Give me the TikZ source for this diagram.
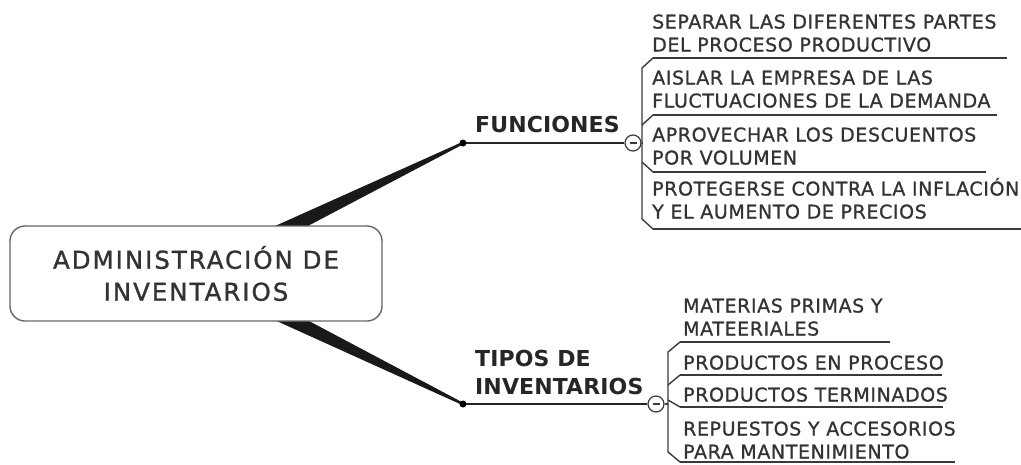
\documentclass[tikz,border=0pt]{standalone}
\usepackage{fontspec}
\setmainfont{DejaVu Sans}[LetterSpace=3.2,FakeBold=0.9]
\newfontfamily\rootfont{DejaVu Sans}[LetterSpace=8,FakeBold=1.2]
\newfontfamily\titlefont{DejaVu Sans Bold}[LetterSpace=0.5]
\usetikzlibrary{calc}
\definecolor{ink}{HTML}{333333}
\definecolor{edge}{HTML}{3A3A3A}

\begin{document}
\begin{tikzpicture}[x=1pt,y=-1pt,
    leaf/.style={anchor=south west,inner sep=0pt,align=left,text=ink,font=\fontsize{19}{23}\selectfont},
    title/.style={anchor=south west,inner sep=0pt,align=left,text=black!85,font=\titlefont\fontsize{22}{28}\selectfont},
    uline/.style={draw=edge,line width=1.8pt},
    brace/.style={draw=edge,line width=1.4pt},
    stem/.style={draw=black!85,line width=1.6pt},
    toggle/.style={circle,draw=edge,line width=1.2pt,fill=white,minimum size=16pt,inner sep=0pt,
        path picture={\draw[line width=1.4pt] ([xshift=-3.5pt]path picture bounding box.center) -- ([xshift=3.5pt]path picture bounding box.center);}},
    rootbox/.style={draw=black!60,line width=1.4pt,rounded corners=15pt,fill=white,minimum width=372pt,
        minimum height=95pt,align=center,text=ink,font=\rootfont\fontsize{24.5}{32}\selectfont}]
    \useasboundingbox (0,0) rectangle (1021,464);

    % centre and the two knots
    \coordinate (c) at (196,273);
    \coordinate (fdot) at (463,143);
    \coordinate (tdot) at (463,404);

    % tapered branches
    \fill[black!90] ($(c)!10.5pt!90:(fdot)$) -- ($(fdot)!1.2pt!-90:(c)$) -- ($(fdot)!1.2pt!90:(c)$) -- ($(c)!10.5pt!-90:(fdot)$) -- cycle;
    \fill[black!90] ($(c)!10.5pt!90:(tdot)$) -- ($(tdot)!1.2pt!-90:(c)$) -- ($(tdot)!1.2pt!90:(c)$) -- ($(c)!10.5pt!-90:(tdot)$) -- cycle;

    \node[rootbox] (root) at (196,273.5) {ADMINISTRACIÓN DE\\INVENTARIOS};

    % FUNCIONES
    \node[title] (fun) at (475,133) {FUNCIONES};
    \node[toggle] (fcirc) at (633,143) {};
    \draw[stem] (fdot) -- (fcirc);
    \fill[black] (fdot) circle (3.5pt);

    \coordinate (f1) at (653,58);  \coordinate (f1e) at (1007,58);
    \coordinate (f2) at (653,115); \coordinate (f2e) at (997,115);
    \coordinate (f3) at (653,172); \coordinate (f3e) at (986,172);
    \coordinate (f4) at (653,229); \coordinate (f4e) at (1021,229);
    \draw[brace] (fcirc.east) -- (642,143);
    \draw[brace] (f1) -- (642,68) -- (642,219) -- (f4);
    \draw[brace] (642,125) -- (f2);
    \draw[brace] (642,162) -- (f3);
    \draw[uline] (f1) -- (f1e);
    \draw[uline] (f2) -- (f2e);
    \draw[uline] (f3) -- (f3e);
    \draw[uline] (f4) -- (f4e);
    \node[leaf] (sep) at ([xshift=-1pt,yshift=6pt]f1) {SEPARAR LAS DIFERENTES PARTES\\DEL PROCESO PRODUCTIVO};
    \node[leaf] (ais) at ([xshift=-1pt,yshift=7pt]f2) {AISLAR LA EMPRESA DE LAS\\FLUCTUACIONES DE LA DEMANDA};
    \node[leaf] (apr) at ([xshift=-1pt,yshift=7pt]f3) {APROVECHAR LOS DESCUENTOS\\POR VOLUMEN};
    \node[leaf] (pro) at ([xshift=-1pt,yshift=10pt]f4) {PROTEGERSE CONTRA LA INFLACIÓN\\Y EL AUMENTO DE PRECIOS};

    % TIPOS DE INVENTARIOS
    \node[title] (tip) at (475,395) {TIPOS DE\\INVENTARIOS};
    \node[toggle] (tcirc) at (656,404) {};
    \draw[stem] (tdot) -- (tcirc);
    \fill[black] (tdot) circle (3.5pt);

    \coordinate (t1) at (680,342); \coordinate (t1e) at (890,342);
    \coordinate (t2) at (680,375); \coordinate (t2e) at (942,375);
    \coordinate (t3) at (680,407); \coordinate (t3e) at (943,407);
    \coordinate (t4) at (680,462); \coordinate (t4e) at (955,462);
    \draw[brace] (tcirc.east) -- (668,404);
    \draw[brace] (t1) -- (668,352) -- (668,452) -- (t4);
    \draw[brace] (668,385) -- (t2);
    \draw[brace] (668,400) -- (t3);
    \draw[uline] (t1) -- (t1e);
    \draw[uline] (t2) -- (t2e);
    \draw[uline] (t3) -- (t3e);
    \draw[uline] (t4) -- (t4e);
    \node[leaf] (mat) at ([xshift=3pt,yshift=6pt]t1) {MATERIAS PRIMAS Y\\MATEERIALES};
    \node[leaf] (enp) at ([xshift=3pt,yshift=5pt]t2) {PRODUCTOS EN PROCESO};
    \node[leaf] (ter) at ([xshift=3pt,yshift=5pt]t3) {PRODUCTOS TERMINADOS};
    \node[leaf] (rep) at ([xshift=3pt,yshift=3pt]t4) {REPUESTOS Y ACCESORIOS\\PARA MANTENIMIENTO};
\end{tikzpicture}
\end{document}
